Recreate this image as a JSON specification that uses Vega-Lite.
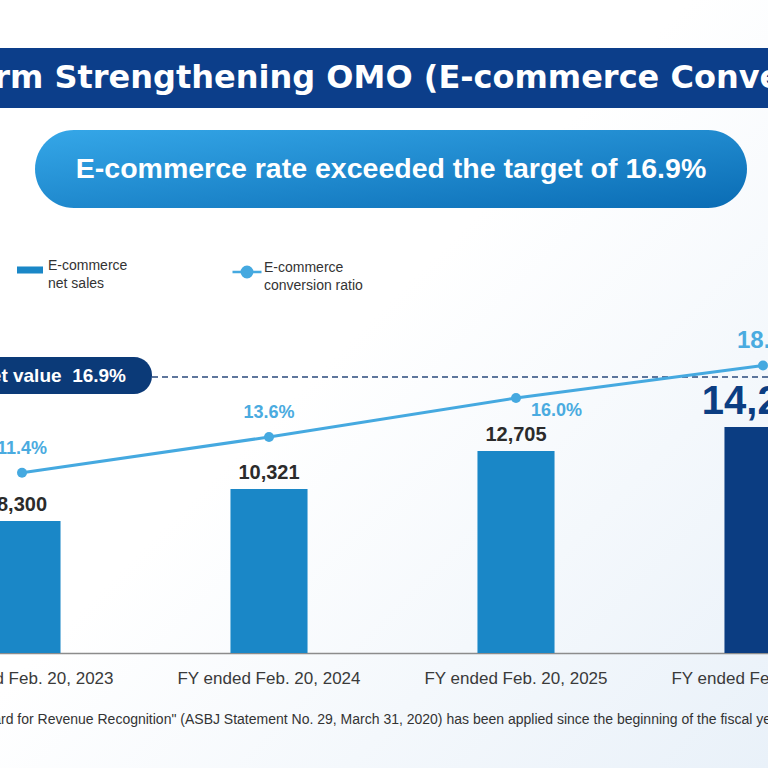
{
  "$schema": "https://vega.github.io/schema/vega-lite/v6.json",
  "width": 768,
  "height": 768,
  "autosize": {"type": "none"},
  "padding": 0,
  "background": "#ffffff",
  "config": {
    "font": "Liberation Sans",
    "view": {"stroke": null, "fill": {"gradient": "linear", "x1": 0, "y1": 0, "x2": 1, "y2": 1, "stops": [{"offset": 0, "color": "#ffffff"}, {"offset": 0.45, "color": "#ffffff"}, {"offset": 1, "color": "#e9f1f9"}]}},
    "style": {"guide-label": {"lineHeight": 18}}
  },
  "datasets": {
    "sales": [
      {"fy": "FY ended Feb. 20, 2023", "net_sales": 8300, "conversion_ratio": 0.114},
      {"fy": "FY ended Feb. 20, 2024", "net_sales": 10321, "conversion_ratio": 0.136},
      {"fy": "FY ended Feb. 20, 2025", "net_sales": 12705, "conversion_ratio": 0.160},
      {"fy": "FY ended Feb. 20, 2026", "net_sales": 14216, "conversion_ratio": 0.180}
    ],
    "heading": [{"slot": "heading", "text": "Platform Strengthening OMO (E-commerce Conversion Ratio)"}],
    "headline": [{"slot": "headline", "text": "E-commerce rate exceeded the target of 16.9%"}],
    "target": [{"slot": "target", "target_ratio": 0.169, "text": "Target value\u00a0\u00a016.9%"}]
  },
  "layer": [
    {
      "data": {"name": "heading"},
      "encoding": {
        "y": {"field": "slot", "type": "nominal", "axis": null, "scale": {"range": [48, 108], "paddingInner": 0, "paddingOuter": 0}}
      },
      "layer": [
        {"mark": {"type": "rect", "color": "#0c3e8a"}},
        {"mark": {"type": "text", "align": "left", "baseline": "middle", "dx": -497, "font": "DejaVu Sans", "fontWeight": "bold", "fontSize": 32, "color": "#ffffff"}, "encoding": {"text": {"field": "text"}}}
      ]
    },
    {
      "data": {"name": "headline"},
      "encoding": {
        "x": {"field": "slot", "type": "nominal", "axis": null, "scale": {"range": [35, 747], "paddingInner": 0, "paddingOuter": 0}},
        "y": {"field": "slot", "type": "nominal", "axis": null, "scale": {"range": [130, 208], "paddingInner": 0, "paddingOuter": 0}}
      },
      "layer": [
        {"mark": {"type": "rect", "cornerRadius": 39, "color": {"gradient": "linear", "x1": 0, "y1": 0, "x2": 1, "y2": 1, "stops": [{"offset": 0, "color": "#35a7e8"}, {"offset": 1, "color": "#0a6cb4"}]}}},
        {"mark": {"type": "text", "baseline": "middle", "fontSize": 28.5, "fontWeight": "bold", "color": "#ffffff"}, "encoding": {"text": {"field": "text"}}}
      ]
    },
    {
      "data": {"name": "target"},
      "mark": {"type": "rule", "color": "#2a4a7c", "strokeDash": [6, 4], "strokeWidth": 1.5},
      "encoding": {
        "y": {"field": "target_ratio", "type": "quantitative", "axis": null, "scale": {"domain": [0.169, 0.179], "range": [377, 367], "zero": false, "nice": false}}
      }
    },
    {
      "data": {"name": "target"},
      "encoding": {
        "x": {"field": "slot", "type": "nominal", "axis": null, "scale": {"range": [-70, 152], "paddingInner": 0, "paddingOuter": 0}},
        "y": {"field": "slot", "type": "nominal", "axis": null, "scale": {"range": [357, 394], "paddingInner": 0, "paddingOuter": 0}}
      },
      "layer": [
        {"mark": {"type": "rect", "cornerRadius": 18, "color": "#0b3a78"}},
        {"mark": {"type": "text", "align": "right", "baseline": "middle", "dx": -26, "fontSize": 19, "fontWeight": "bold", "color": "#ffffff"}, "encoding": {"x": {"field": "slot", "type": "nominal", "bandPosition": 1}, "text": {"field": "text"}}}
      ]
    },
    {
      "data": {"name": "sales"},
      "encoding": {
        "x": {
          "field": "fy", "type": "nominal", "sort": null,
          "scale": {"range": [-101.5, 886.5], "paddingInner": 0.688, "paddingOuter": 0.344},
          "axis": {
            "title": "\"Accounting Standard for Revenue Recognition\" (ASBJ Statement No. 29, March 31, 2020) has been applied since the beginning of the fiscal year ended February 20, 2023.",
            "offset": -115,
            "labelAngle": 0, "labelFontSize": 17, "labelColor": "#3a3a3a", "labelPadding": 17, "labelOverlap": false, "labelLimit": 0,
            "ticks": false, "domainColor": "#8c8c8c", "domainWidth": 1.5,
            "titleFontSize": 14, "titleFontWeight": "normal", "titleColor": "#333333",
            "titleX": -122, "titleY": 66, "titleAlign": "left", "titleAnchor": "start", "titleBaseline": "middle", "titleLimit": 0
          }
        }
      },
      "layer": [
        {
          "encoding": {
            "y": {"field": "net_sales", "type": "quantitative", "axis": null, "scale": {"domain": [0, 10000], "range": [653, 494], "zero": false, "nice": false}}
          },
          "layer": [
            {
              "mark": {"type": "bar"},
              "encoding": {
                "color": {
                  "condition": {"test": "datum.fy === 'FY ended Feb. 20, 2026'", "value": "#0b3d82"},
                  "datum": "E-commerce net sales",
                  "scale": {"range": ["#1a87c7"]},
                  "legend": {
                    "title": null, "orient": "none", "legendX": 17, "legendY": 257, "padding": 0,
                    "symbolType": "M-1,-0.27H1V0.27H-1Z", "symbolSize": 676, "symbolStrokeWidth": 0,
                    "labelFontSize": 14, "labelColor": "#333333", "labelOffset": 5, "labelBaseline": "alphabetic",
                    "labelExpr": "['E-commerce', 'net sales']"
                  }
                }
              }
            },
            {
              "transform": [{"filter": "datum.fy !== 'FY ended Feb. 20, 2026'"}],
              "mark": {"type": "text", "baseline": "middle", "dy": -16, "fontSize": 20, "fontWeight": "bold", "color": "#2b2b2b"},
              "encoding": {"text": {"field": "net_sales", "format": ","}}
            },
            {
              "transform": [{"filter": "datum.fy === 'FY ended Feb. 20, 2026'"}],
              "mark": {"type": "text", "baseline": "middle", "dy": -25, "fontSize": 40, "fontWeight": "bold", "color": "#0b3d82"},
              "encoding": {"text": {"field": "net_sales", "format": ","}}
            }
          ]
        },
        {
          "encoding": {
            "y": {"field": "conversion_ratio", "type": "quantitative", "axis": null, "scale": {"domain": [0.1, 0.2], "range": [495.5, 333], "zero": false, "nice": false}}
          },
          "layer": [
            {
              "mark": {"type": "line", "strokeWidth": 3, "point": {"filled": true, "size": 100}},
              "encoding": {
                "color": {
                  "datum": "E-commerce conversion ratio",
                  "scale": {"range": ["#45a9e0"]},
                  "legend": {
                    "title": null, "orient": "none", "legendX": 231, "legendY": 256, "padding": 0,
                    "symbolType": "M-1,0H1M-0.36,0A0.36,0.36 0 1,1 0.36,0A0.36,0.36 0 1,1 -0.36,0",
                    "symbolSize": 841, "symbolStrokeWidth": 2.5, "symbolFillColor": "#45a9e0",
                    "labelFontSize": 14, "labelColor": "#333333", "labelOffset": 1, "labelBaseline": "alphabetic",
                    "labelExpr": "['E-commerce', 'conversion ratio']"
                  }
                }
              }
            },
            {
              "transform": [{"filter": "datum.fy === 'FY ended Feb. 20, 2023' || datum.fy === 'FY ended Feb. 20, 2024'"}],
              "mark": {"type": "text", "baseline": "middle", "dy": -24, "fontSize": 18, "fontWeight": "bold", "color": "#4aabe0"},
              "encoding": {"text": {"field": "conversion_ratio", "format": ".1%"}}
            },
            {
              "transform": [{"filter": "datum.fy === 'FY ended Feb. 20, 2025'"}],
              "mark": {"type": "text", "align": "left", "baseline": "middle", "dx": 15, "dy": 13, "fontSize": 18, "fontWeight": "bold", "color": "#4aabe0"},
              "encoding": {"text": {"field": "conversion_ratio", "format": ".1%"}}
            },
            {
              "transform": [{"filter": "datum.fy === 'FY ended Feb. 20, 2026'"}],
              "mark": {"type": "text", "align": "left", "baseline": "middle", "dx": -26, "dy": -25, "fontSize": 24, "fontWeight": "bold", "color": "#4aabe0"},
              "encoding": {"text": {"field": "conversion_ratio", "format": ".1%"}}
            }
          ],
          "resolve": {"scale": {"color": "independent"}}
        }
      ],
      "resolve": {"scale": {"y": "independent", "color": "independent"}}
    }
  ],
  "resolve": {"scale": {"x": "independent", "y": "independent", "color": "independent"}}
}
